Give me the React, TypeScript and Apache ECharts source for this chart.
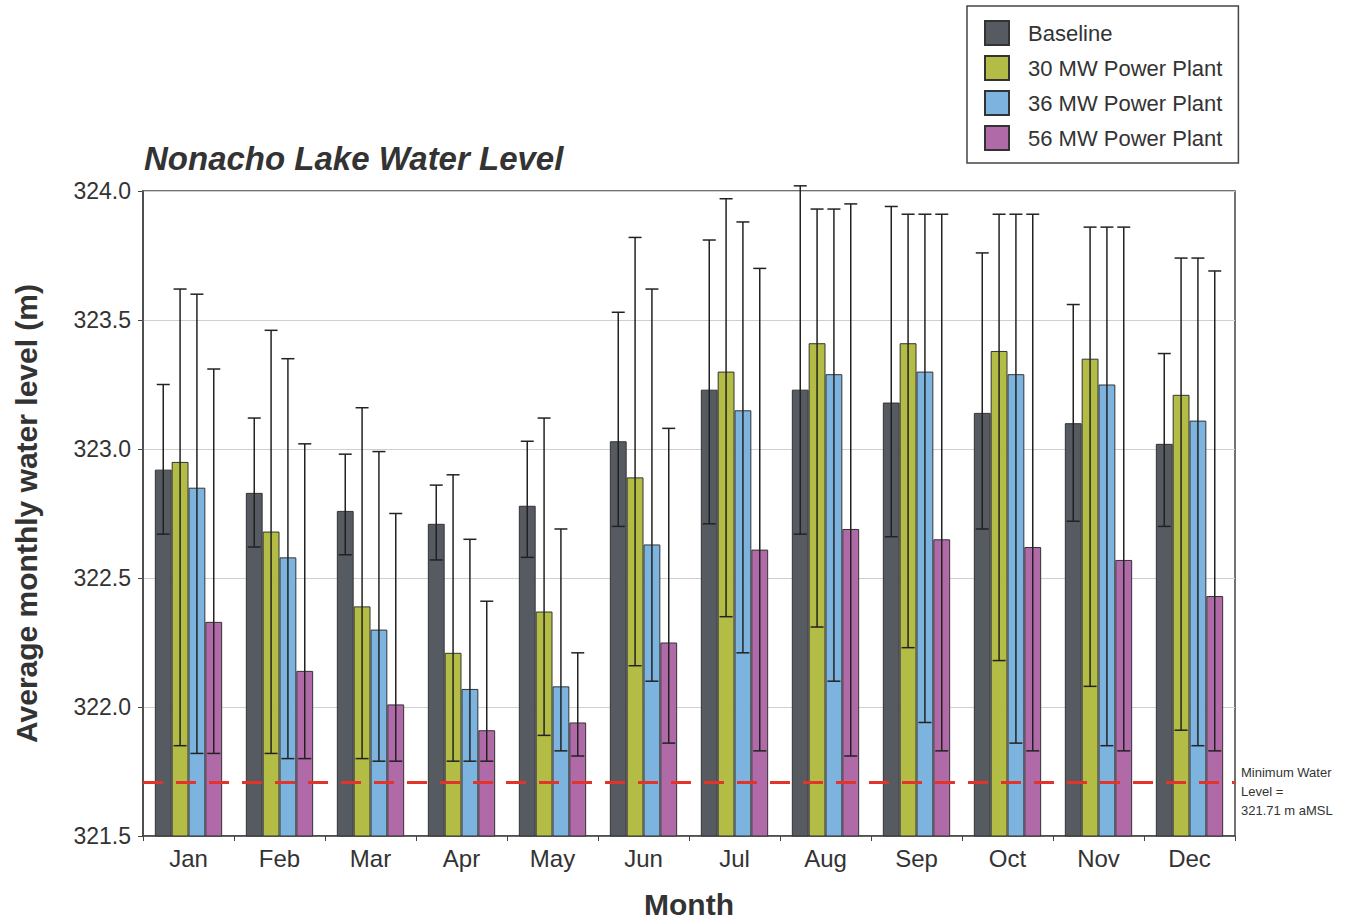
import React, { useEffect, useRef } from "react";
import * as echarts from "echarts";

const months = ["Jan", "Feb", "Mar", "Apr", "May", "Jun", "Jul", "Aug", "Sep", "Oct", "Nov", "Dec"];
const seriesNames = ["Baseline", "30 MW Power Plant", "36 MW Power Plant", "56 MW Power Plant"];
const seriesColors = ["#565b61", "#b3bd45", "#7db4df", "#b06aa8"];

const baseline = [322.92, 322.83, 322.76, 322.71, 322.78, 323.03, 323.23, 323.23, 323.18, 323.14, 323.10, 323.02];
const baselineHigh = [323.25, 323.12, 322.98, 322.86, 323.03, 323.53, 323.81, 324.02, 323.94, 323.76, 323.56, 323.37];
const baselineLow = [322.67, 322.62, 322.59, 322.57, 322.58, 322.70, 322.71, 322.67, 322.66, 322.69, 322.72, 322.70];

const mw30 = [322.95, 322.68, 322.39, 322.21, 322.37, 322.89, 323.30, 323.41, 323.41, 323.38, 323.35, 323.21];
const mw30High = [323.62, 323.46, 323.16, 322.90, 323.12, 323.82, 323.97, 323.93, 323.91, 323.91, 323.86, 323.74];
const mw30Low = [321.85, 321.82, 321.80, 321.79, 321.89, 322.16, 322.35, 322.31, 322.23, 322.18, 322.08, 321.91];

const mw36 = [322.85, 322.58, 322.30, 322.07, 322.08, 322.63, 323.15, 323.29, 323.30, 323.29, 323.25, 323.11];
const mw36High = [323.60, 323.35, 322.99, 322.65, 322.69, 323.62, 323.88, 323.93, 323.91, 323.91, 323.86, 323.74];
const mw36Low = [321.82, 321.80, 321.79, 321.79, 321.83, 322.10, 322.21, 322.10, 321.94, 321.86, 321.85, 321.85];

const mw56 = [322.33, 322.14, 322.01, 321.91, 321.94, 322.25, 322.61, 322.69, 322.65, 322.62, 322.57, 322.43];
const mw56High = [323.31, 323.02, 322.75, 322.41, 322.21, 323.08, 323.70, 323.95, 323.91, 323.91, 323.86, 323.69];
const mw56Low = [321.82, 321.80, 321.79, 321.79, 321.81, 321.86, 321.83, 321.81, 321.83, 321.83, 321.83, 321.83];

const minWaterLevel = 321.71;
const yTicks = [321.5, 322.0, 322.5, 323.0, 323.5, 324.0];

const values = [baseline, mw30, mw36, mw56];
const highs = [baselineHigh, mw30High, mw36High, mw56High];
const lows = [baselineLow, mw30Low, mw36Low, mw56Low];

const FONT = "'Liberation Sans', Arial, sans-serif";
const BAR_FRAC = 0.185;

export default function App() {
  const ref = useRef<HTMLDivElement>(null);
  useEffect(() => {
    if (!ref.current) return;
    const chart = echarts.init(ref.current, null, { renderer: "svg" });

    const barSeries: any[] = values.map((vals, i) => ({
      type: "bar",
      name: seriesNames[i],
      data: vals,
      barWidth: BAR_FRAC * 100 + "%",
      barGap: "0%",
      itemStyle: { color: seriesColors[i], borderColor: "#333", borderWidth: 1 },
      z: 2,
    }));

    const errSeries: any[] = values.map((vals, i) => ({
      type: "custom",
      name: seriesNames[i] + " range",
      z: 5,
      silent: true,
      data: vals.map((_, k) => [k, lows[i][k], highs[i][k]]),
      encode: { x: 0, y: [1, 2] },
      renderItem: (params: any, api: any) => {
        const idx = api.value(0);
        const lo = api.coord([idx, api.value(1)]);
        const hi = api.coord([idx, api.value(2)]);
        const band = api.size([1, 0])[0];
        const bw = band * BAR_FRAC;
        const x = lo[0] + (i - 1.5) * bw;
        const cap = 6.5;
        const style = { stroke: "#222", lineWidth: 1.5 };
        return {
          type: "group",
          children: [
            { type: "line", shape: { x1: x, y1: lo[1], x2: x, y2: hi[1] }, style },
            { type: "line", shape: { x1: x - cap, y1: hi[1], x2: x + cap, y2: hi[1] }, style },
            { type: "line", shape: { x1: x - cap, y1: lo[1], x2: x + cap, y2: lo[1] }, style },
          ],
        };
      },
    }));

    const minLineSeries: any = {
      type: "line",
      name: "Minimum Water Level",
      data: [],
      z: 10,
      silent: true,
      markLine: {
        silent: true,
        symbol: ["none", "none"],
        z: 10,
        lineStyle: { color: "#e3342b", type: [20, 13], width: 3 },
        label: {
          show: true,
          position: "end",
          distance: 6,
          formatter: "\nMinimum Water\nLevel =\n321.71 m aMSL",
          fontFamily: FONT,
          fontSize: 13,
          lineHeight: 19,
          color: "#333",
          align: "left",
        },
        data: [{ yAxis: minWaterLevel }],
      },
    };

    chart.setOption({
      animation: false,
      backgroundColor: "#fff",
      title: {
        text: "Nonacho Lake Water Level",
        left: 144,
        top: 142,
        padding: 0,
        textStyle: { fontFamily: FONT, fontSize: 33, fontWeight: "bold", fontStyle: "italic", color: "#333" },
      },
      legend: {
        data: seriesNames,
        orient: "vertical",
        left: 967,
        top: 6,
        padding: [14, 16, 12, 17],
        itemWidth: 24,
        itemHeight: 24,
        itemGap: 9,
        borderColor: "#444",
        borderWidth: 1.5,
        backgroundColor: "#fff",
        icon: "rect",
        textStyle: { fontFamily: FONT, fontSize: 22, color: "#333", padding: [0, 0, 0, 14] },
      },
      grid: {
        left: 143,
        right: 110,
        top: 191,
        bottom: 84,
        show: true,
        borderColor: "#444",
        borderWidth: 1.5,
      },
      xAxis: {
        type: "category",
        data: months,
        boundaryGap: true,
        name: "Month",
        nameLocation: "middle",
        nameGap: 53,
        nameTextStyle: { fontFamily: FONT, fontSize: 30, fontWeight: "bold", color: "#333" },
        axisLine: { lineStyle: { color: "#444", width: 1.5 } },
        axisTick: { show: true, length: 5, lineStyle: { color: "#444" } },
        axisLabel: { fontFamily: FONT, fontSize: 24, color: "#333", margin: 10 },
      },
      yAxis: {
        type: "value",
        min: yTicks[0],
        max: yTicks[yTicks.length - 1],
        interval: 0.5,
        name: "Average monthly water level (m)",
        nameLocation: "middle",
        nameGap: 102,
        nameTextStyle: { fontFamily: FONT, fontSize: 30, fontWeight: "bold", color: "#333" },
        axisLine: { show: true, lineStyle: { color: "#444", width: 1.5 } },
        axisTick: { show: true, length: 5, lineStyle: { color: "#444" } },
        axisLabel: {
          fontFamily: FONT,
          fontSize: 23,
          color: "#333",
          margin: 12,
          formatter: (v: number) => v.toFixed(1),
        },
        splitLine: { show: true, lineStyle: { color: "#cfcfcf", width: 1 } },
      },
      series: [...barSeries, ...errSeries, minLineSeries],
    });

    return () => chart.dispose();
  }, []);

  return (
    <div
      ref={ref}
      style={{ position: "fixed", left: 0, top: 0, width: 1345, height: 924, background: "#fff" }}
    />
  );
}
